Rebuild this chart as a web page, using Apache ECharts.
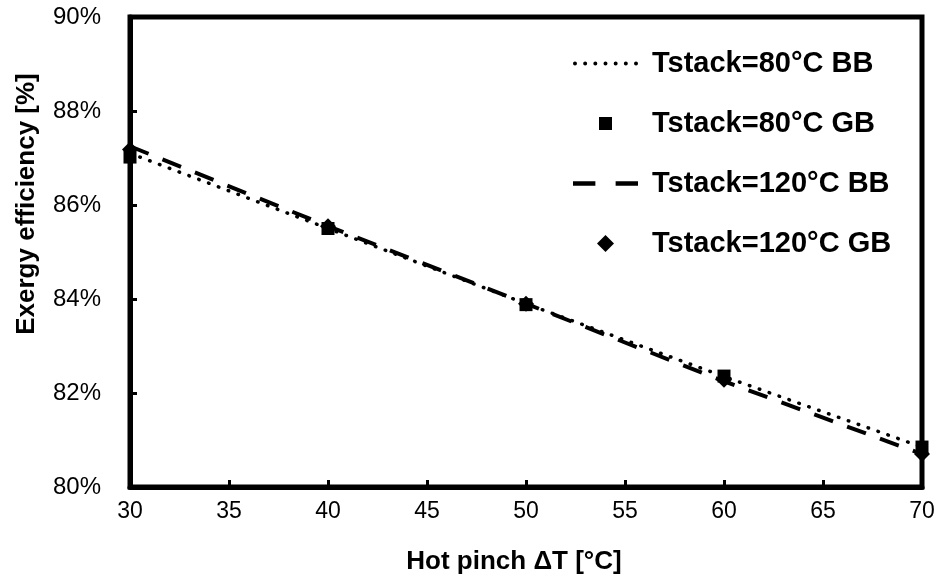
<!DOCTYPE html>
<html><head><meta charset="utf-8">
<script src="https://cdn.jsdelivr.net/npm/echarts@6/dist/echarts.min.js"></script>
<style>html,body{margin:0;padding:0;background:#fff}#c{width:943px;height:585px}</style>
</head><body><div id="c"></div>
<script>
const pinch = [30, 40, 50, 60, 70];
const bb80 = [87.1, 85.5, 83.9, 82.35, 80.85];
const gb80 = [87.02, 85.5, 83.88, 82.36, 80.85];
const bb120 = [87.25, 85.55, 83.9, 82.25, 80.7];
const gb120 = [87.18, 85.55, 83.9, 82.28, 80.7];
const names = ['Tstack=80°C BB', 'Tstack=80°C GB', 'Tstack=120°C BB', 'Tstack=120°C GB'];
const xTitle = 'Hot pinch \u0394T [°C]';
const yTitle = 'Exergy efficiency [%]';

const pairs = a => pinch.map((x, i) => [x, a[i]]);
const chart = echarts.init(document.getElementById('c'));
const font = '"Liberation Sans", Arial, sans-serif';

// legend icon shapes
let dots = '';
for (let k = 0; k < 7; k++) {
  const cx = k * 10.2;
  dots += 'M' + cx + ',8a2,2 0 1,0 4,0a2,2 0 1,0 -4,0Z';
}
const dotIcon = 'path://' + dots;
const dashIcon = 'path://M0,6H21V10H0Z M40,6H61V10H40Z';
const squareIcon = 'path://M0,0M17,17M2,2H15V15H2Z';
const diamondIcon = 'path://M8.5,0L17,8.5L8.5,17L0,8.5Z';

chart.setOption({
  animation: false,
  backgroundColor: '#fff',
  grid: {left: 130, right: 21, top: 17, bottom: 98, show: true, borderColor: '#000', borderWidth: 5, containLabel: false},
  xAxis: {
    type: 'value', min: 30, max: 70, interval: 5,
    name: xTitle, nameLocation: 'middle', nameGap: 62,
    nameTextStyle: {fontFamily: font, fontSize: 26, fontWeight: 'bold', color: '#000', padding: [0, 24, 0, 0]},
    axisLine: {show: true, lineStyle: {color: '#000', width: 5}},
    axisTick: {show: true, inside: true, length: 7, lineStyle: {color: '#000', width: 3}},
    axisLabel: {fontFamily: font, fontSize: 23, color: '#000', margin: 13},
    splitLine: {show: false}
  },
  yAxis: {
    type: 'value', min: 80, max: 90, interval: 2,
    name: yTitle, nameLocation: 'middle', nameGap: 90,
    nameTextStyle: {fontFamily: font, fontSize: 26, fontWeight: 'bold', color: '#000', padding: [0, 0, 0, 96]},
    axisLine: {show: true, lineStyle: {color: '#000', width: 5}},
    axisTick: {show: true, inside: true, length: 7, lineStyle: {color: '#000', width: 3}},
    axisLabel: {fontFamily: font, fontSize: 24, color: '#000', margin: 29, formatter: '{value}%'},
    splitLine: {show: false}
  },
  legend: {
    orient: 'vertical', left: 573, top: 49, itemGap: 31, padding: 0,
    itemWidth: 65, itemHeight: 17, symbolKeepAspect: true,
    textStyle: {fontFamily: font, fontSize: 29, fontWeight: 'bold', color: '#000', padding: [0, 0, 0, 9]},
    data: [
      {name: names[0], icon: dotIcon},
      {name: names[1], icon: squareIcon},
      {name: names[2], icon: dashIcon},
      {name: names[3], icon: diamondIcon}
    ]
  },
  series: [
    {name: names[0], type: 'line', data: pairs(bb80), symbol: 'none', z: 3,
     lineStyle: {color: '#000', width: 3.5, type: [0.5, 10], cap: 'round'}, itemStyle: {color: '#000'}},
    {name: names[1], type: 'scatter', data: pairs(gb80), symbol: 'rect', symbolSize: 13, z: 4,
     itemStyle: {color: '#000', opacity: 1}},
    {name: names[2], type: 'line', data: pairs(bb120), symbol: 'none', z: 3,
     lineStyle: {color: '#000', width: 4, type: [20, 15]}, itemStyle: {color: '#000'}},
    {name: names[3], type: 'scatter', data: pairs(gb120), symbol: 'diamond', symbolSize: 16, z: 4,
     itemStyle: {color: '#000', opacity: 1}}
  ]
});
</script></body></html>
